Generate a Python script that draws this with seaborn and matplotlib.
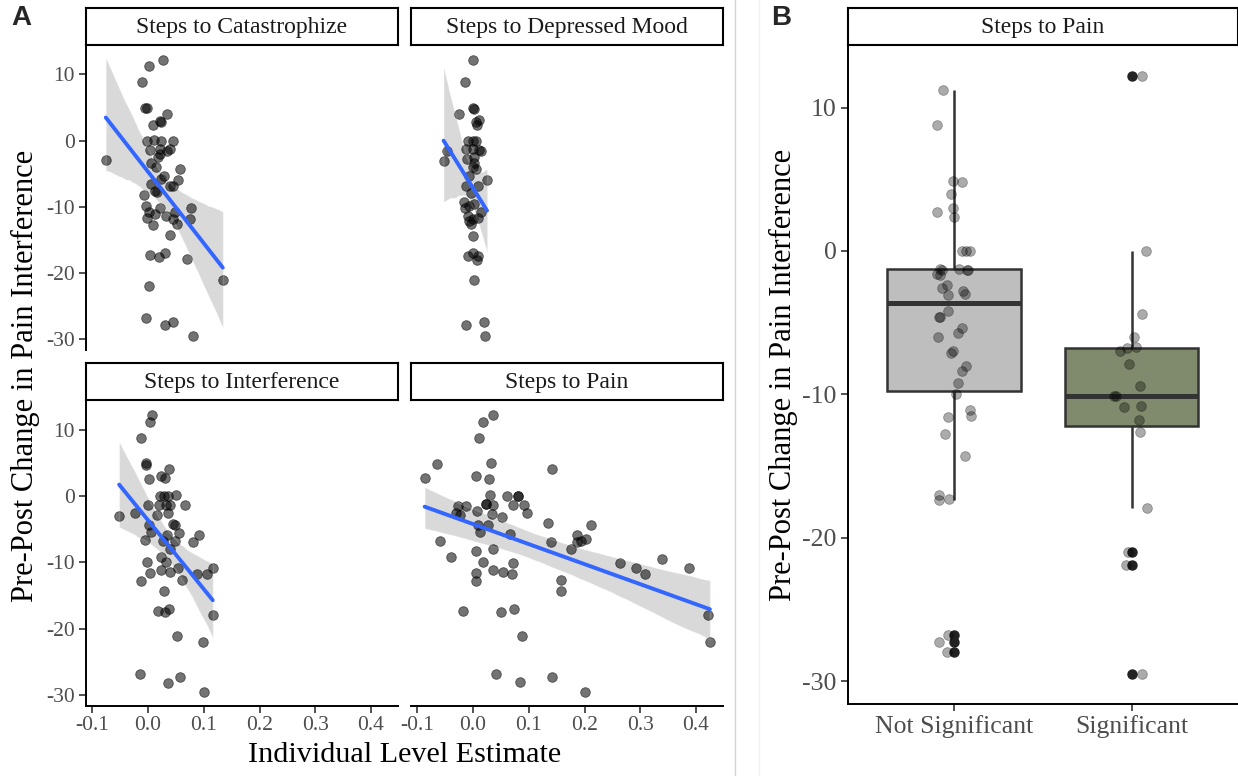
import numpy as np
import pandas as pd
import matplotlib
matplotlib.use("Agg")
import matplotlib.pyplot as plt
from matplotlib.lines import Line2D
import seaborn as sns

# ---- Individual-level estimates (x) and pre-post change in pain interference (y) ----
catastrophize_x = [-0.076, 0.001, 0.027, -0.011, -0.006, -0.002, 0.034, 0.009, 0.021, 0.024,
                   -0.002, 0.010, 0.024, 0.045, 0.004, 0.021, 0.039, 0.018, 0.021, 0.034,
                   0.006, 0.015, 0.058, 0.054, 0.028, 0.024, 0.006, 0.016, 0.039, 0.045,
                   -0.008, -0.004, 0.002, -0.002, 0.012, 0.022, 0.032, 0.044, 0.051, 0.048,
                   0.009, 0.077, 0.075, 0.040, 0.004, 0.020, 0.031, 0.070, 0.002, 0.134,
                   -0.004, 0.030, 0.044, 0.080, 0.012]
catastrophize_y = [-2.9, 11.3, 12.2, 8.8, 4.9, 4.9, 4.0, 2.4, 3.0, 2.8,
                   0.0, 0.1, 0.0, 0.0, -1.4, -1.3, -1.3, -2.5, -2.0, -1.5,
                   -3.3, -4.0, -4.3, -5.9, -5.4, -5.8, -6.6, -7.8, -6.8, -6.8,
                   -8.2, -9.9, -10.8, -11.6, -11.1, -10.1, -11.4, -11.8, -12.6, -10.8,
                   -12.7, -10.1, -11.8, -14.2, -17.3, -17.5, -17.0, -17.9, -21.9, -21.0,
                   -26.7, -27.9, -27.3, -29.5, -7.6]

depressed_x = [0.000, -0.014, -0.025, -0.001, 0.001, 0.011, 0.005, 0.007, -0.053, -0.046,
               -0.010, -0.001, 0.005, -0.013, -0.001, 0.011, 0.014, -0.011, 0.001, -0.001,
               0.005, 0.025, -0.013, 0.008, -0.004, -0.017, -0.015, -0.007, 0.002, 0.014,
               -0.010, -0.001, 0.008, -0.007, -0.003, 0.000, -0.010, -0.001, 0.008, 0.007,
               0.002, -0.013, 0.020, 0.022, 0.002, -0.007]
depressed_y = [12.2, 8.8, 4.0, 4.9, 4.8, 3.1, 2.8, 2.4, -3.0, -1.5,
               0.0, 0.0, 0.0, -1.3, -1.3, -1.4, -1.5, -2.7, -2.5, -4.0,
               -4.3, -6.0, -6.8, -6.8, -7.9, -9.2, -10.1, -9.8, -9.6, -10.7,
               -11.3, -11.8, -11.7, -12.1, -12.6, -14.4, -17.4, -16.9, -17.4, -18.0,
               -21.0, -27.9, -27.3, -29.5, -3.4, -5.4]

interference_x = [-0.052, -0.024, -0.012, 0.003, 0.007, -0.004, -0.003, 0.001, 0.024, 0.030,
                  0.038, 0.000, 0.021, 0.028, 0.036, 0.050, 0.020, 0.032, 0.039, 0.036,
                  0.066, 0.016, 0.002, 0.006, 0.045, 0.048, 0.033, 0.055, 0.092, 0.081,
                  -0.005, 0.026, 0.048, 0.039, 0.024, 0.032, -0.002, 0.004, 0.023, 0.039,
                  0.054, 0.060, -0.012, 0.087, 0.105, 0.116, 0.028, 0.017, 0.030, 0.037,
                  0.116, 0.052, 0.098, -0.014, 0.036, 0.057, 0.100]
interference_y = [-3.0, -2.5, 8.8, 11.2, 12.2, 4.9, 4.7, 2.5, 3.0, 2.7,
                  4.0, -1.3, 0.0, 0.0, 0.0, 0.1, -1.4, -1.3, -1.4, -2.5,
                  -1.3, -2.8, -4.4, -5.4, -4.2, -4.4, -5.8, -5.5, -5.9, -6.9,
                  -6.6, -6.8, -6.8, -8.0, -9.2, -10.0, -9.9, -11.6, -11.1, -11.5,
                  -10.9, -12.6, -12.8, -11.7, -11.8, -10.8, -14.3, -17.3, -17.4, -17.0,
                  -17.9, -21.0, -21.9, -26.8, -28.1, -27.3, -29.5]

pain_x = [-0.087, -0.064, -0.059, -0.040, -0.027, -0.031, -0.023, -0.012, -0.019, 0.010,
          0.017, 0.036, 0.005, 0.029, 0.032, 0.031, 0.023, 0.023, 0.035, 0.007,
          0.034, 0.008, 0.013, 0.027, 0.005, 0.017, 0.005, 0.005, 0.036, 0.035,
          0.051, 0.060, 0.080, 0.080, 0.071, 0.091, 0.096, 0.067, 0.071, 0.054,
          0.069, 0.050, 0.074, 0.087, 0.041, 0.084, 0.142, 0.201, 0.141, 0.135,
          0.139, 0.158, 0.157, 0.175, 0.186, 0.187, 0.194, 0.203, 0.212, 0.264,
          0.292, 0.309, 0.339, 0.388, 0.422, 0.425]
pain_y = [2.7, 4.8, -6.8, -9.2, -1.5, -2.5, -2.9, -1.5, -17.3, 8.8,
          11.2, 12.2, 3.0, 2.5, 4.9, 0.1, -1.2, -1.2, -1.3, -2.3,
          -2.7, -4.3, -5.4, -4.4, -8.2, -9.9, -11.6, -12.8, -8.0, -11.1,
          -3.2, 0.0, 0.0, 0.0, -1.3, -1.3, -2.5, -5.7, -10.1, -11.5,
          -11.8, -17.4, -17.0, -21.0, -26.8, -28.0, -27.3, -29.5, 4.0, -4.1,
          -6.9, -12.6, -14.3, -8.0, -5.9, -6.9, -6.8, -6.5, -4.4, -10.1,
          -10.9, -11.8, -9.5, -10.8, -17.9, -21.9]

# ---- Steps to Pain: change in pain interference by significance of the individual slope ----
not_significant = [11.2, 8.8, 4.9, 4.8, 4.0, 3.0, 2.7, 2.4, 0.0, 0.0,
                   0.0, -1.25, -1.3, -1.3, -1.3, -1.25, -1.6, -1.7, -2.4, -2.6,
                   -2.8, -3.0, -3.1, -4.2, -4.6, -4.6, -5.4, -5.7, -6.0, -7.0,
                   -7.1, -8.0, -8.4, -9.2, -9.95, -11.1, -11.5, -11.6, -12.8, -14.3,
                   -17.0, -17.3, -17.4, -26.8, -27.3, -28.0]
significant = [12.2, 0.0, -4.4, -6.0, -6.7, -6.8, -7.0, -7.9, -9.4, -10.1,
               -10.1, -10.8, -10.9, -11.8, -12.6, -17.9, -21.0, -21.9, -29.5]

group_labels = ["Not Significant", "Significant"]
group_colors = ["#BEBEBE", "#808A6C"]
facet_titles = ["Steps to Catastrophize", "Steps to Depressed Mood",
                "Steps to Interference", "Steps to Pain"]
x_ticks = [-0.1, 0.0, 0.1, 0.2, 0.3, 0.4]
x_tick_labels = ["-0.1", "0.0", "0.1", "0.2", "0.3", "0.4"]
y_ticks = [-30, -20, -10, 0, 10]

# ---- style ----
sns.set_theme(style="white")
plt.rcParams["font.family"] = ["Liberation Serif", "DejaVu Serif"]
plt.rcParams["axes.linewidth"] = 1.4
plt.rcParams["axes.edgecolor"] = "black"
plt.rcParams["axes.unicode_minus"] = False

TICK_TXT = "#4D4D4D"
TICK_LINE = "#333333"
W, H = 1238, 776
fig = plt.figure(figsize=(W / 100, H / 100), dpi=100)


def px_axes(left, top, right, bottom):
    return fig.add_axes([left / W, 1 - bottom / H, (right - left) / W, (bottom - top) / H])


def strip(left, top, right, bottom, text):
    sax = px_axes(left, top, right, bottom)
    sax.set_xticks([])
    sax.set_yticks([])
    sax.set_facecolor("white")
    for s in sax.spines.values():
        s.set_visible(True)
        s.set_color("black")
        s.set_linewidth(1.5)
    sax.text(0.5, 0.47, text, ha="center", va="center", fontsize=17,
             color="#1A1A1A", transform=sax.transAxes)


YLIM = (-31.6, 14.3)
XLIM = (-0.1115, 0.4485)

panels = [
    (catastrophize_x, catastrophize_y, (86, 46, 398, 350), True, False),
    (depressed_x, depressed_y, (411, 46, 723, 350), False, False),
    (interference_x, interference_y, (86, 401, 398, 706), True, True),
    (pain_x, pain_y, (411, 401, 723, 706), False, True),
]

for title, (xs, ys, box, show_y, show_x) in zip(facet_titles, panels):
    ax = px_axes(*box)
    xv, yv = np.array(xs), np.array(ys)
    # points and grey 95% band
    sns.regplot(x=xv, y=yv, ax=ax, ci=95, seed=3, color="black",
                scatter_kws=dict(s=48, alpha=0.55, edgecolor="black", linewidths=0.6),
                line_kws=dict(lw=0, alpha=0))
    # fitted line on top
    sns.regplot(x=xv, y=yv, ax=ax, ci=None, scatter=False, color="#3366FF",
                line_kws=dict(lw=2.8))
    ax.set_xlim(*XLIM)
    ax.set_ylim(*YLIM)
    ax.set_xticks(x_ticks)
    ax.set_xticklabels(x_tick_labels)
    ax.set_yticks(y_ticks)
    ax.set_xlabel("")
    ax.set_ylabel("")
    ax.spines["top"].set_visible(False)
    ax.spines["right"].set_visible(False)
    ax.spines["left"].set_visible(show_y)
    ax.spines["bottom"].set_visible(show_x)
    ax.tick_params(axis="y", left=show_y, labelleft=show_y, length=5, width=1.2,
                   color=TICK_LINE, labelcolor=TICK_TXT, labelsize=15.5, pad=3)
    ax.tick_params(axis="x", bottom=show_x, labelbottom=show_x, length=5, width=1.2,
                   color=TICK_LINE, labelcolor=TICK_TXT, labelsize=15.5, pad=2)
    l, t, r, b = box
    strip(l, t - 38, r, t - 1, title)

fig.text(404.5 / W, 1 - 755 / H, "Individual Level Estimate", ha="center", va="center",
         fontsize=21.7, color="black")
fig.text(25 / W, 1 - 376 / H, "Pre-Post Change in Pain Interference", ha="center",
         va="center", rotation=90, fontsize=22, color="black")

# ---- panel B ----
df = pd.DataFrame({
    "group": [group_labels[0]] * len(not_significant) + [group_labels[1]] * len(significant),
    "value": not_significant + significant,
})
axb = px_axes(847.5, 46, 1238, 704)
sns.boxplot(data=df, x="group", y="value", hue="group", order=group_labels,
            hue_order=group_labels, palette=group_colors, saturation=1, width=0.75,
            linewidth=1.8, linecolor="#333333", fliersize=6.5, whis=1.5,
            flierprops=dict(marker="o", markerfacecolor="#222222",
                            markeredgecolor="#222222"),
            medianprops=dict(linewidth=3.6, color="#333333"),
            showcaps=False, legend=False, ax=axb)
np.random.seed(11)
sns.stripplot(data=df, x="group", y="value", order=group_labels, color="black",
              alpha=0.33, jitter=0.1, size=7, linewidth=0.6, edgecolor="black",
              ax=axb, zorder=5)
axb.set_xlim(-0.6, 1.6)
axb.set_ylim(*YLIM)
axb.set_yticks(y_ticks)
axb.set_xlabel("")
axb.set_ylabel("")
for s in ["top", "right"]:
    axb.spines[s].set_visible(False)
axb.tick_params(axis="both", length=5, width=1.2, color=TICK_LINE, labelcolor=TICK_TXT,
                labelsize=18.5, pad=3, left=True, bottom=True)
strip(847.5, 8, 1237.5, 45, "Steps to Pain")
fig.text(783 / W, 1 - 375 / H, "Pre-Post Change in Pain Interference", ha="center",
         va="center", rotation=90, fontsize=22, color="black")

# ---- panel tags and divider ----
fig.add_artist(Line2D([735.5 / W] * 2, [0, 1], color="#D4D4D4", lw=1.0))
fig.add_artist(Line2D([758.5 / W] * 2, [0, 1], color="#F0F0F0", lw=1.0))
fig.text(11 / W, 1 - 18 / H, "A", fontsize=20, fontweight="bold",
         family=["Liberation Sans", "DejaVu Sans"], va="center", ha="left")
fig.text(771 / W, 1 - 18 / H, "B", fontsize=20, fontweight="bold",
         family=["Liberation Sans", "DejaVu Sans"], va="center", ha="left")

fig.savefig("out.png", dpi=100, facecolor="white")
